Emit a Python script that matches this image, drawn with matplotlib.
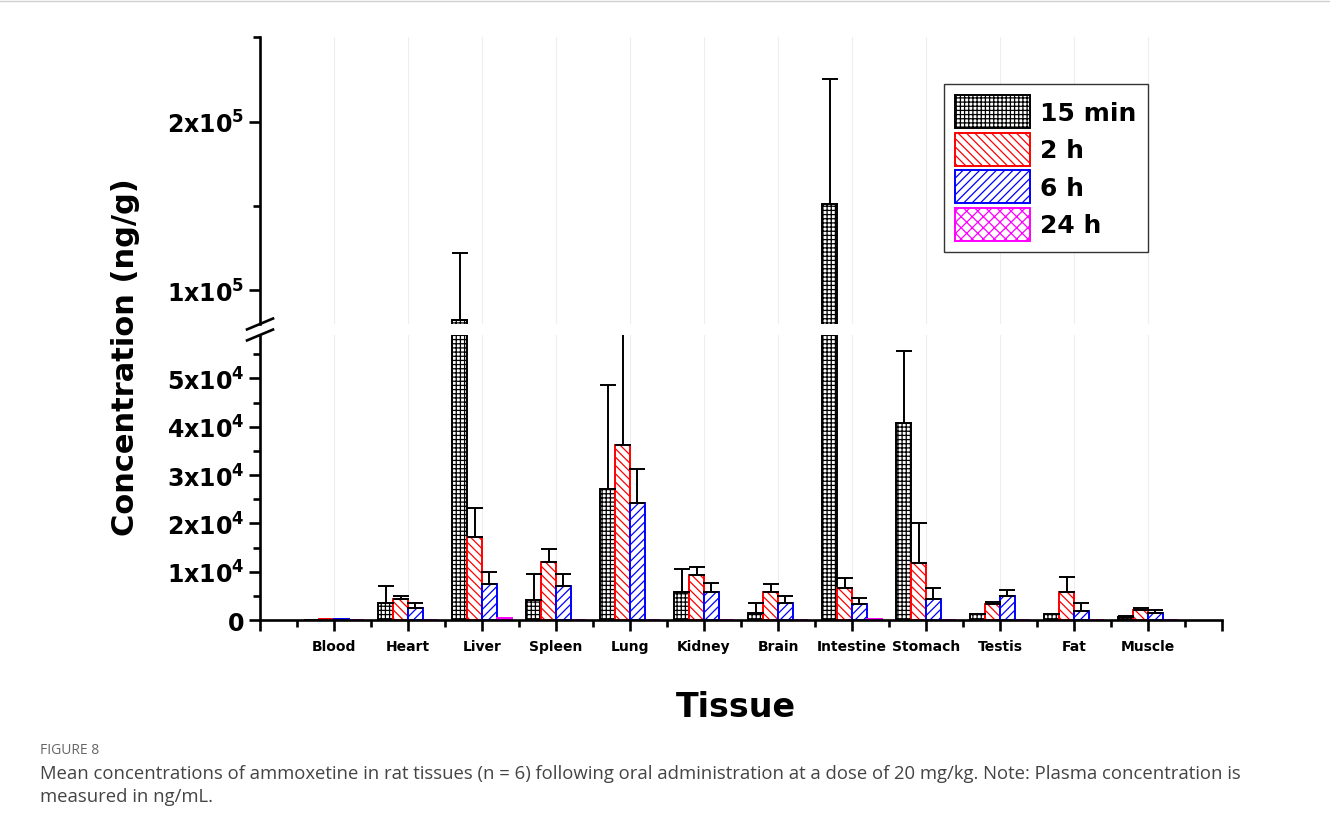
import numpy as np
import matplotlib
matplotlib.use("Agg")
import matplotlib.pyplot as plt
from matplotlib.lines import Line2D

# Tissue categories
tissues = ["Blood", "Heart", "Liver", "Spleen", "Lung", "Kidney", "Brain",
           "Intestine", "Stomach", "Testis", "Fat", "Muscle"]

# Mean concentrations (ng/g) per time point
mean_15min = [100, 3600, 82200, 4100, 27100, 5700, 1500, 151000, 40700, 1200, 1200, 600]
mean_2h = [300, 4250, 17100, 12100, 36300, 9400, 5800, 6600, 11700, 3300, 5700, 2000]
mean_6h = [150, 2500, 7400, 7100, 24200, 5700, 3500, 3300, 4300, 5000, 1900, 1500]
mean_24h = [50, 0, 400, 0, 0, 0, 0, 200, 0, 100, 0, 0]

# Standard deviations (upper error bars only)
sd_15min = [0, 3500, 40000, 5400, 21500, 4900, 2000, 74400, 15000, 100, 100, 200]
sd_2h = [0, 650, 6100, 2600, 22900, 1600, 1700, 2100, 8400, 450, 3300, 400]
sd_6h = [0, 1100, 2600, 2400, 7000, 2000, 1500, 1300, 2400, 1250, 1600, 500]
sd_24h = [0, 0, 0, 0, 0, 0, 0, 0, 0, 0, 0, 0]

series_labels = ["15 min", "2 h", "6 h", "24 h"]
colors = ["black", "red", "blue", "magenta"]
hatches = ["++++", "\\\\\\\\", "////", "xxx"]

means = [mean_15min, mean_2h, mean_6h, mean_24h]
sds = [sd_15min, sd_2h, sd_6h, sd_24h]

plt.rcParams["hatch.linewidth"] = 0.9
plt.rcParams["mathtext.fontset"] = "dejavusans"

fig = plt.figure(figsize=(13.3, 8.29), dpi=100)
ax_lo = fig.add_axes([0.1955, 0.2509, 0.7233, 0.3438])
ax_hi = fig.add_axes([0.1955, 0.6080, 0.7233, 0.3458], sharex=ax_lo)

x = np.arange(1, len(tissues) + 1)
width = 0.2
offsets = (np.arange(4) - 1.5) * width

for ax in (ax_lo, ax_hi):
    for i in range(4):
        m = np.array(means[i], dtype=float)
        s = np.array(sds[i], dtype=float)
        ax.bar(x + offsets[i], m, width, facecolor="white", edgecolor=colors[i],
               hatch=hatches[i], linewidth=1.4, label=series_labels[i], zorder=2)
        has = s > 0
        if has.any():
            ax.errorbar((x + offsets[i])[has], m[has],
                        yerr=[np.zeros(has.sum()), s[has]], fmt="none",
                        ecolor="black", elinewidth=1.4, capsize=6, capthick=1.4,
                        zorder=3)
    ax.grid(axis="x", which="major", color="#eeeeee", linewidth=0.8, zorder=0)
    ax.set_axisbelow(True)
    for side in ("top", "right"):
        ax.spines[side].set_visible(False)
    ax.spines["left"].set_linewidth(1.9)
    ax.tick_params(axis="y", which="major", length=8, width=1.9, labelsize=17)
    ax.tick_params(axis="y", which="minor", length=5, width=1.9)

# lower segment
ax_lo.set_ylim(0, 59000)
ax_lo.set_xlim(0, 13)
ax_lo.spines["bottom"].set_linewidth(1.9)
ax_lo.set_xticks(np.arange(0, 14))
ax_lo.set_xticklabels([""] + tissues + [""], fontsize=10, fontweight="bold")
ax_lo.set_xticks(np.arange(0.5, 13, 1), minor=True)
ax_lo.tick_params(axis="x", which="major", length=8, width=1.9, pad=6)
ax_lo.tick_params(axis="x", which="minor", length=5, width=1.9)
lo_ticks = [0, 10000, 20000, 30000, 40000, 50000]
ax_lo.set_yticks(lo_ticks)
ax_lo.set_yticklabels([r"$\mathbf{0}$"] + [r"$\mathbf{%dx10^{4}}$" % (t // 10000) for t in lo_ticks[1:]])
ax_lo.set_yticks(np.arange(5000, 59000, 10000), minor=True)

# upper segment
ax_hi.set_ylim(80000, 250000)
ax_hi.spines["bottom"].set_visible(False)
ax_hi.tick_params(axis="x", which="both", bottom=False, labelbottom=False)
ax_hi.set_yticks([100000, 200000])
ax_hi.set_yticklabels([r"$\mathbf{1x10^{5}}$", r"$\mathbf{2x10^{5}}$"])
ax_hi.set_yticks([150000, 250000], minor=True)

# break marks on the y axis
dx, dy = 0.0135, 0.019
ax_lo.plot([-dx, dx], [1 - dy, 1 + dy], transform=ax_lo.transAxes,
           color="black", lw=1.9, clip_on=False)
ax_hi.plot([-dx, dx], [-dy, dy], transform=ax_hi.transAxes,
           color="black", lw=1.9, clip_on=False)

# legend
handles, labels = ax_hi.get_legend_handles_labels()
leg = fig.legend(handles, labels, loc="upper left",
                 bbox_to_anchor=(944 / 1330, 1 - 85 / 829),
                 bbox_transform=fig.transFigure, borderaxespad=0,
                 prop={"weight": "bold", "size": 18}, handlelength=3.0,
                 handleheight=1.65, handletextpad=0.4, labelspacing=0.18,
                 borderpad=0.45, fancybox=False, framealpha=1)
leg.get_frame().set_edgecolor("#333333")
leg.get_frame().set_linewidth(1.0)

# axis titles
fig.text(0.094, 0.569, "Concentration (ng/g)", rotation=90, ha="center",
         va="center", fontsize=22, fontweight="bold")
fig.text(0.553, 0.147, "Tissue", ha="center", va="center", fontsize=24,
         fontweight="bold")

# caption
fig.add_artist(Line2D([0, 1], [0.997, 0.997], color="#d0d0d0", lw=1))
fig.text(40 / 1330, 1 - 751 / 829, "FIGURE 8", fontsize=10, color="#666666",
         va="center", family="Open Sans")
fig.text(40 / 1330, 1 - 774 / 829,
         "Mean concentrations of ammoxetine in rat tissues (n = 6) following oral "
         "administration at a dose of 20 mg/kg. Note: Plasma concentration is",
         fontsize=13.3, color="#444444", va="center", family="Open Sans")
fig.text(40 / 1330, 1 - 797 / 829, "measured in ng/mL.", fontsize=13.3,
         color="#444444", va="center", family="Open Sans")

fig.savefig("out.png", dpi=100)
